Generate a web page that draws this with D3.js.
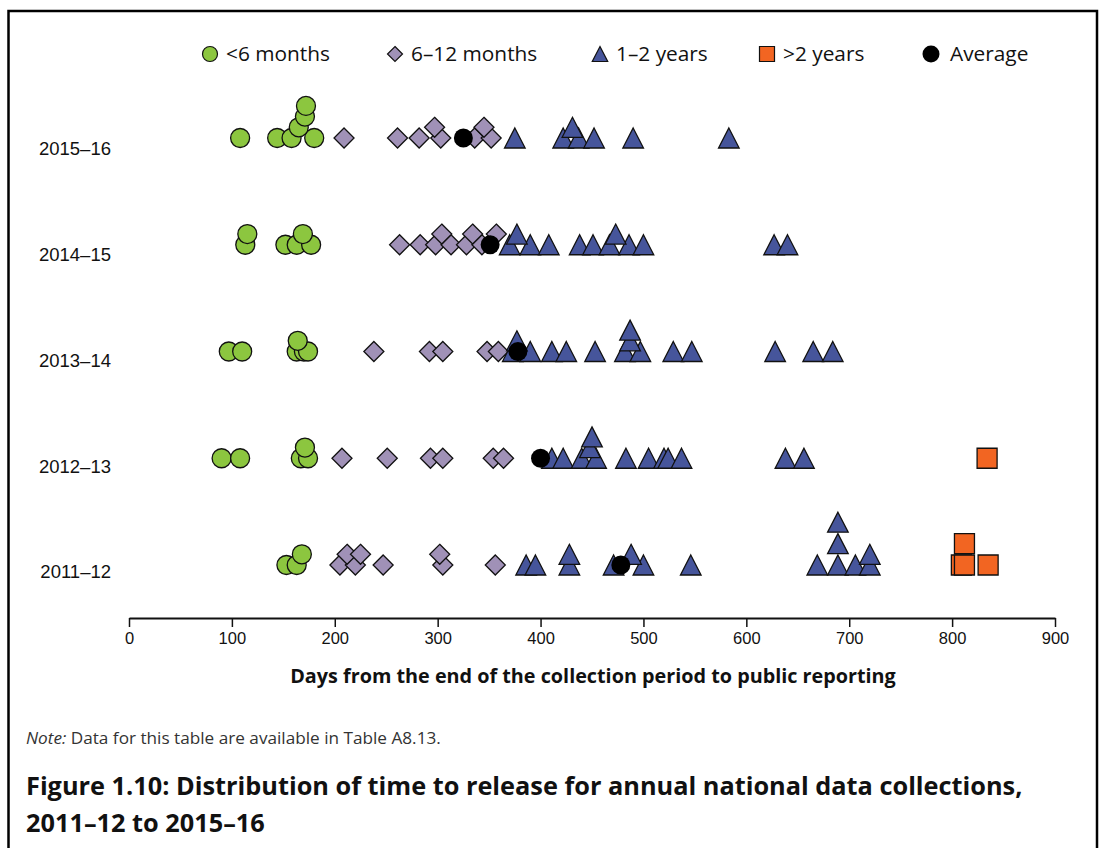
<!DOCTYPE html>
<html><head><meta charset="utf-8">
<script src="https://cdn.jsdelivr.net/npm/d3@7"></script>
<style>body{margin:0;background:#fff} svg{display:block}</style>
</head><body>
<svg id="chart" width="1106" height="848"></svg>
<script>
// ---------------- data ----------------
const years = ["2015–16", "2014–15", "2013–14", "2012–13", "2011–12"];
const xTicks = [0, 100, 200, 300, 400, 500, 600, 700, 800, 900];
// each entry: [days, stack level]
const under6Months = {
  "2015–16": [[108,0],[144,0],[158,0],[165,1],[171,2],[172,3],[180,0]],
  "2014–15": [[113,0],[115,1],[152,0],[163,0],[169,1],[177,0]],
  "2013–14": [[97,0],[110,0],[163,0],[164,1],[170,0],[174,0]],
  "2012–13": [[90,0],[108,0],[167,0],[171,1],[174,0]],
  "2011–12": [[153,0],[163,0],[168,1]]
};
const months6to12 = {
  "2015–16": [[209,0],[261,0],[282,0],[297,1],[303,0],[336,0],[345,1],[352,0]],
  "2014–15": [[263,0],[283,0],[298,0],[304,1],[313,0],[328,0],[334,1],[343,0],[357,1]],
  "2013–14": [[238,0],[292,0],[305,0],[348,0],[359,0]],
  "2012–13": [[207,0],[251,0],[293,0],[305,0],[354,0],[364,0]],
  "2011–12": [[205,0],[212,1],[220,0],[225,1],[247,0],[302,1],[305,0],[356,0]]
};
const years1to2 = {
  "2015–16": [[375,0],[422,0],[431,1],[437,0],[452,0],[490,0],[583,0]],
  "2014–15": [[370,0],[377,1],[390,0],[408,0],[438,0],[451,0],[467,0],[473,1],[486,0],[500,0],[627,0],[640,0]],
  "2013–14": [[373,0],[377,1],[390,0],[411,0],[425,0],[453,0],[482,0],[487,1],[487,2],[497,0],[529,0],[547,0],[628,0],[665,0],[684,0]],
  "2012–13": [[411,0],[422,0],[440,0],[448,1],[450,2],[454,0],[483,0],[505,0],[520,0],[524,0],[537,0],[638,0],[656,0]],
  "2011–12": [[386,0],[395,0],[428,0],[428,1],[471,0],[488,1],[500,0],[546,0],[669,0],[689,0],[689,2],[689,4],[706,0],[720,0],[720,1]]
};
const over2Years = {
  "2015–16": [],
  "2014–15": [],
  "2013–14": [],
  "2012–13": [[834,0]],
  "2011–12": [[809,0],[812,0],[812,2],[835,0]]
};
const averageDays = {"2015–16": 325, "2014–15": 351, "2013–14": 378, "2012–13": 400, "2011–12": 478};
const legendLabels = ["<6 months", "6–12 months", "1–2 years", ">2 years", "Average"];
const axisTitle = "Days from the end of the collection period to public reporting";
const noteLead = "Note:";
const noteText = " Data for this table are available in Table A8.13.";
const titleLines = ["Figure 1.10: Distribution of time to release for annual national data collections,", "2011–12 to 2015–16"];

// ---------------- styles / layout ----------------
const colors = {lt6: "#8cc63f", m6: "#a091b7", y12: "#46559b", gt2: "#f26522", avg: "#000"};
const humanist = "'Open Sans', 'Noto Sans', sans-serif";
const arial = "'Liberation Sans', Arial, sans-serif";

const svg = d3.select("#chart");
const x = d3.scaleLinear().domain([0, 900]).range([129, 1055]);
const y = d3.scalePoint().domain(years).range([138, 565]);
const yLabel = d3.scalePoint().domain(years).range([149, 572]);
const lift = d3.scaleLinear().domain([0, 1]).range([0, -10.7]);

// frame
svg.append("rect").attr("x", 8.5).attr("y", 11).attr("width", 1088.5).attr("height", 860)
  .attr("fill", "none").attr("stroke", "#000").attr("stroke-width", 2.5);

// marker shape generators (centered at 0,0)
function shapePath(kind, s) {
  const p = d3.path();
  if (kind === "circle") { p.arc(0, 0, s / 2, 0, 2 * Math.PI); p.closePath(); }
  else if (kind === "diamond") { const h = s / 2; p.moveTo(0, -h); p.lineTo(h, 0); p.lineTo(0, h); p.lineTo(-h, 0); p.closePath(); }
  else if (kind === "triangle") { const h = s / 2; p.moveTo(0, -h); p.lineTo(h * 1.03, h); p.lineTo(-h * 1.03, h); p.closePath(); }
  else if (kind === "square") { const h = s / 2; p.rect(-h, -h, s, s); }
  return p.toString();
}

const series = [
  {key: "lt6", data: under6Months, shape: "circle", size: 19},
  {key: "m6", data: months6to12, shape: "diamond", size: 20},
  {key: "y12", data: years1to2, shape: "triangle", size: 20},
  {key: "gt2", data: over2Years, shape: "square", size: 20}
];

const plot = svg.append("g");
series.forEach(s => {
  const pts = [];
  years.forEach(yr => (s.data[yr] || []).forEach(([d, lv]) => pts.push({yr, d, lv})));
  pts.sort((a, b) => a.lv - b.lv);
  plot.append("g").selectAll("path").data(pts).join("path")
    .attr("d", shapePath(s.shape, s.size))
    .attr("transform", p => `translate(${x(p.d)},${y(p.yr) + lift(p.lv)})`)
    .attr("fill", colors[s.key]).attr("stroke", "#111").attr("stroke-width", 1.3);
});
// averages
plot.append("g").selectAll("circle").data(years).join("circle")
  .attr("cx", yr => x(averageDays[yr])).attr("cy", yr => y(yr)).attr("r", 9.5)
  .attr("fill", "#000");

// year labels
svg.append("g").selectAll("text").data(years).join("text")
  .attr("x", 111).attr("y", yr => yLabel(yr)).attr("dy", "0.35em")
  .attr("text-anchor", "end").attr("font-family", arial).attr("font-size", 18.5)
  .attr("fill", "#111").text(d => d);

// x axis
const axisG = svg.append("g").attr("transform", "translate(0,618)")
  .call(d3.axisBottom(x).tickValues(xTicks).tickSize(9).tickSizeOuter(0).tickPadding(5));
axisG.select(".domain").attr("stroke", "#111").attr("stroke-width", 2);
axisG.selectAll(".tick line").attr("stroke", "#111").attr("stroke-width", 1.5);
axisG.selectAll(".tick text").attr("font-family", arial).attr("font-size", 16.5).attr("fill", "#111");

function fit(sel, target) {
  const w = sel.node().getComputedTextLength();
  const fs = parseFloat(sel.attr("font-size"));
  sel.attr("font-size", fs * target / w);
  return fs * target / w;
}

// axis title
const at = svg.append("text").attr("x", 593).attr("y", 676).attr("dy", "0.35em")
  .attr("text-anchor", "middle").attr("font-family", humanist).attr("font-weight", 700)
  .attr("font-size", 17).attr("fill", "#111").text(axisTitle);
fit(at, 606);

// legend
const legendX = [210, 395, 600, 767, 931];
const legendKeys = ["lt6", "m6", "y12", "gt2", "avg"];
const legendShapes = ["circle", "diamond", "triangle", "square", "circle"];
const lg = svg.append("g");
let legendFs = null;
legendLabels.forEach((lab, i) => {
  const g = lg.append("g").attr("transform", `translate(${legendX[i]},54)`);
  const sz = i === 4 ? 17 : 15;
  g.append("path").attr("d", shapePath(legendShapes[i], sz))
    .attr("fill", colors[legendKeys[i]]).attr("stroke", "#111").attr("stroke-width", i === 4 ? 0 : 1.2);
  const t = g.append("text").attr("x", i === 4 ? 19 : 16).attr("y", 0).attr("dy", "0.35em")
    .attr("font-family", humanist).attr("font-size", 19).attr("fill", "#111").text(lab);
  if (i === 0) legendFs = fit(t, 104); else t.attr("font-size", legendFs);
});

// note
const note = svg.append("text").attr("x", 26).attr("y", 738).attr("dy", "0.35em")
  .attr("font-family", humanist).attr("font-size", 15).attr("fill", "#333");
note.append("tspan").attr("font-style", "italic").text(noteLead);
note.append("tspan").text(noteText);
fit(note, 415);

// figure title
const t1 = svg.append("text").attr("x", 26).attr("y", 786).attr("dy", "0.35em")
  .attr("font-family", humanist).attr("font-weight", 700).attr("font-size", 24)
  .attr("fill", "#111").text(titleLines[0]);
const tfs = fit(t1, 997);
svg.append("text").attr("x", 26).attr("y", 823).attr("dy", "0.35em")
  .attr("font-family", humanist).attr("font-weight", 700).attr("font-size", tfs)
  .attr("fill", "#111").text(titleLines[1]);
</script>
</body></html>
